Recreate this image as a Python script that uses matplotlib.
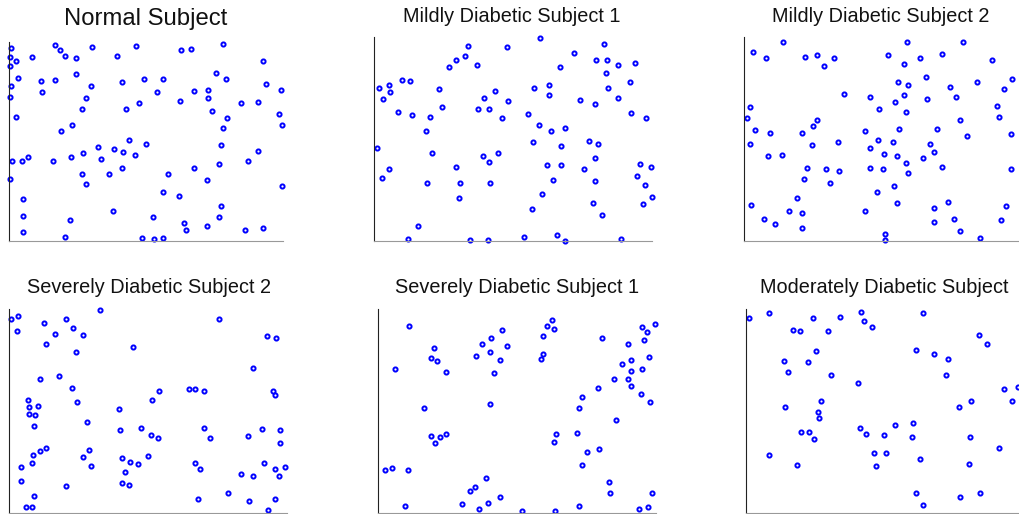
import numpy as np
import matplotlib
matplotlib.use("Agg")
import matplotlib.pyplot as plt

plt.rcParams['font.family'] = ['Liberation Sans', 'DejaVu Sans']

titles = ["Normal Subject", "Mildly Diabetic Subject 1", "Mildly Diabetic Subject 2",
          "Severely Diabetic Subject 2", "Severely Diabetic Subject 1", "Moderately Diabetic Subject"]

# values (no tick labels, arbitrary units)
normal_x = [6, 138, 153, 249, 382, 518, 546, 643, 4, 22, 69, 169, 202, 324, 762, 4, 28, 97, 138, 201,
            339, 404, 462, 622, 651, 773, 7, 99, 247, 446, 555, 599, 817, 2, 231, 514, 599, 391, 698, 749,
            220, 351, 609, 811, 21, 654, 189, 819, 155, 643, 360, 413, 636, 267, 314, 342, 222, 379, 748, 10,
            39, 57, 131, 185, 277, 717, 632, 556, 340, 219, 299, 477, 2, 230, 594, 819, 463, 510, 42, 638,
            312, 41, 433, 632, 184, 526, 594, 42, 531, 708, 762, 168, 400, 437, 464]
normal_y = [579, 590, 574, 584, 585, 575, 578, 593, 554, 542, 554, 557, 549, 556, 542, 526, 490, 480, 484, 503,
            479, 487, 487, 504, 488, 473, 465, 447, 465, 448, 452, 454, 454, 432, 430, 420, 431, 416, 414, 418,
            396, 397, 392, 383, 373, 371, 348, 349, 330, 341, 304, 291, 289, 281, 277, 266, 264, 257, 271, 239,
            239, 252, 240, 253, 245, 239, 230, 220, 218, 200, 200, 200, 186, 172, 182, 166, 148, 134, 127, 106,
            90, 76, 73, 71, 62, 53, 45, 28, 32, 32, 39, 12, 8, 5, 8]

mild1_x = [498, 280, 398, 689, 599, 272, 244, 224, 307, 558, 665, 697, 729, 782, 693, 85, 109, 14, 46, 48,
           28, 195, 480, 525, 525, 700, 767, 361, 328, 401, 618, 662, 729, 203, 310, 343, 72, 115, 169, 382,
           462, 770, 814, 493, 529, 572, 155, 476, 643, 671, 561, 8, 175, 327, 372, 344, 660, 246, 46, 23,
           517, 560, 629, 796, 830, 786, 158, 258, 347, 535, 660, 811, 503, 253, 831, 656, 804, 472, 682, 133,
           101, 287, 341, 448, 549, 572, 740]
mild1_y = [611, 585, 584, 591, 566, 556, 544, 523, 530, 522, 545, 543, 530, 534, 506, 484, 482, 459, 470, 448,
           428, 458, 460, 468, 440, 460, 478, 451, 431, 422, 423, 412, 431, 404, 396, 396, 387, 380, 372, 370,
           382, 385, 369, 349, 331, 339, 332, 298, 301, 290, 285, 278, 265, 256, 265, 236, 249, 221, 215, 188,
           228, 228, 215, 230, 223, 196, 174, 173, 174, 182, 181, 168, 142, 128, 131, 115, 110, 96, 77, 44,
           7, 4, 2, 12, 17, 0, 6]

mild2_x = [116, 489, 656, 28, 65, 183, 218, 271, 241, 432, 528, 594, 479, 745, 547, 463, 493, 699, 804, 617,
           781, 299, 377, 481, 453, 549, 636, 18, 405, 486, 758, 8, 218, 208, 766, 648, 33, 77, 175, 362,
           466, 579, 668, 802, 18, 203, 281, 403, 446, 557, 378, 569, 72, 114, 419, 460, 537, 487, 190, 245,
           286, 377, 417, 594, 802, 491, 180, 258, 450, 400, 159, 458, 613, 22, 787, 136, 173, 364, 569, 59,
           92, 571, 631, 770, 173, 647, 422, 422, 708]
mild2_y = [598, 597, 597, 567, 551, 554, 560, 551, 527, 560, 550, 561, 532, 544, 492, 478, 470, 479, 488, 462,
           457, 442, 434, 438, 418, 428, 434, 404, 398, 388, 405, 369, 365, 347, 373, 363, 333, 326, 325, 331,
           338, 337, 316, 323, 290, 288, 296, 304, 297, 292, 280, 268, 254, 258, 262, 256, 248, 234, 219, 215,
           209, 218, 215, 222, 217, 203, 186, 175, 165, 147, 128, 115, 118, 109, 105, 89, 85, 91, 98, 65,
           51, 56, 67, 62, 38, 31, 22, 3, 10]

severe2_x = [5, 27, 25, 272, 106, 172, 192, 138, 220, 110, 202, 371, 627, 771, 798, 729, 93, 151, 190, 204,
             448, 429, 538, 556, 583, 790, 797, 56, 61, 88, 59, 79, 76, 328, 233, 333, 396, 424, 445, 583,
             603, 715, 756, 810, 812, 112, 93, 71, 70, 240, 222, 246, 339, 363, 387, 415, 348, 35, 37, 339,
             358, 170, 557, 573, 693, 730, 762, 795, 825, 807, 76, 52, 69, 565, 656, 719, 797, 775]
severe2_y = [581, 588, 545, 607, 569, 579, 553, 535, 532, 504, 480, 496, 581, 530, 524, 435, 400, 409, 373, 333,
             366, 338, 370, 370, 366, 366, 353, 337, 316, 319, 295, 292, 260, 310, 272, 247, 254, 232, 225, 255,
             225, 229, 252, 249, 209, 195, 185, 172, 151, 189, 167, 141, 163, 153, 147, 169, 123, 137, 95, 89,
             85, 80, 150, 131, 117, 111, 149, 131, 139, 110, 50, 18, 18, 41, 60, 36, 43, 10]

severe1_x = [92, 520, 507, 527, 494, 370, 337, 312, 387, 336, 293, 366, 348, 167, 159, 176, 204, 52, 495, 488,
             671, 749, 789, 805, 830, 797, 812, 730, 756, 758, 791, 705, 747, 756, 658, 786, 815, 611, 603, 138,
             335, 711, 158, 172, 187, 203, 534, 526, 596, 661, 625, 611, 20, 41, 91, 322, 289, 274, 366, 329,
             252, 302, 82, 432, 531, 601, 692, 693, 819, 782, 809]
severe1_y = [560, 576, 559, 551, 530, 547, 523, 506, 498, 482, 469, 458, 420, 493, 464, 454, 421, 430, 475, 459,
             523, 505, 555, 541, 566, 517, 467, 445, 457, 426, 430, 402, 402, 379, 373, 355, 331, 348, 313, 313,
             325, 279, 229, 209, 227, 237, 237, 212, 240, 192, 181, 144, 129, 136, 129, 105, 79, 66, 48, 29,
             28, 11, 22, 5, 5, 20, 94, 61, 61, 12, 18]

moderate_x = [9, 69, 200, 280, 344, 353, 376, 530, 140, 161, 246, 697, 721, 209, 508, 562, 605, 113, 185, 127,
              254, 598, 334, 772, 813, 797, 673, 638, 225, 118, 215, 217, 340, 360, 414, 446, 500, 496, 166, 188,
              204, 669, 757, 69, 153, 384, 418, 389, 521, 667, 509, 531, 640, 699]
moderate_y = [583, 597, 582, 585, 601, 575, 557, 598, 546, 545, 545, 531, 505, 485, 488, 475, 461, 455, 452, 422,
              413, 413, 389, 371, 377, 335, 334, 318, 336, 318, 302, 284, 255, 236, 232, 262, 269, 227, 242, 243,
              220, 227, 194, 173, 145, 179, 179, 142, 160, 148, 59, 24, 48, 59]

series = [(normal_x, normal_y), (mild1_x, mild1_y), (mild2_x, mild2_y),
          (severe2_x, severe2_y), (severe1_x, severe1_y), (moderate_x, moderate_y)]

W, H = 1020, 514
# axes boxes in pixels: left, top, right, bottom
boxes = [(9, 42, 283, 241), (374, 37, 652, 241), (744, 37, 1020, 241),
         (9, 309, 287, 513), (378, 309, 656, 513), (746, 309, 1020, 513)]
xmax = [823, 832, 828, 832, 832, 820]
ymax = [598, 613, 613, 610, 610, 610]
# title centre x and baseline y, pixels
title_pos = [(146, 25), (512, 21.7), (881, 21.7), (149, 293.3), (516.7, 293.3), (884.5, 293.3)]

fig = plt.figure(figsize=(W / 100, H / 100), dpi=100)
for i, (xs, ys) in enumerate(series):
    l, t, r, b = boxes[i]
    ax = fig.add_axes([l / W, 1 - b / H, (r - l) / W, (b - t) / H])
    ax.plot(xs, ys, 'o', color='blue', mfc='white', mec='blue', ms=3.0, mew=1.4, clip_on=False)
    ax.set_xlim(0, xmax[i])
    ax.set_ylim(0, ymax[i])
    ax.set_xticks([])
    ax.set_yticks([])
    ax.spines['top'].set_visible(False)
    ax.spines['right'].set_visible(False)
    ax.spines['left'].set_color('#222222')
    ax.spines['bottom'].set_color('#999999')
    size = 17.2 if i == 0 else 14.3
    fig.text(title_pos[i][0] / W, 1 - title_pos[i][1] / H, titles[i], ha='center', va='baseline',
             fontsize=size, color='#111111')

fig.savefig("out.png", dpi=100)
